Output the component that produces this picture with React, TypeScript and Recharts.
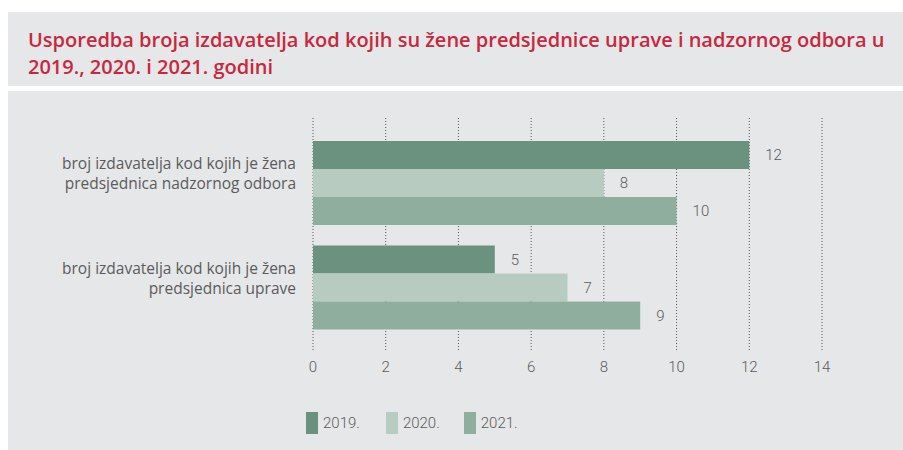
import { BarChart, Bar, XAxis, YAxis, CartesianGrid, LabelList } from "recharts";

const categories = [
  "broj izdavatelja kod kojih je žena predsjednica nadzornog odbora",
  "broj izdavatelja kod kojih je žena predsjednica uprave",
];
const categoryLines = [
  ["broj izdavatelja kod kojih je žena", "predsjednica nadzornog odbora"],
  ["broj izdavatelja kod kojih je žena", "predsjednica uprave"],
];
const series2019 = [12, 5];
const series2020 = [8, 7];
const series2021 = [10, 9];
const xTicks = [0, 2, 4, 6, 8, 10, 12, 14];
const years = ["2019.", "2020.", "2021."];

const colors = ["#6a927f", "#b7cbc1", "#8fae9d"];
const BG = "#e6e7e9";
const TEXT = "#5b5b5b";

const data = categories.map((name, i) => ({
  name,
  y2019: series2019[i],
  y2020: series2020[i],
  y2021: series2021[i],
}));

const CategoryTick = (props: any) => {
  const { x, y, index } = props;
  const lines = categoryLines[index] || [];
  return (
    <text x={x} y={y - 13} textAnchor="end" fill={TEXT} fontSize={15.5} fontFamily="Open Sans" fontWeight={400}>
      {lines.map((l, i) => (
        <tspan key={i} x={x} dy={i === 0 ? -1 : 20}>
          {l}
        </tspan>
      ))}
    </text>
  );
};

export default function App() {
  return (
    <div style={{ position: "fixed", left: 0, top: 0, width: 903, height: 450, background: "#fff", overflow: "hidden" }}>
      <div style={{ position: "absolute", left: 8, top: 12, width: 895, height: 74, background: BG }}>
        <div
          style={{
            position: "absolute",
            left: 20,
            top: 14,
            fontFamily: "Open Sans",
            fontWeight: 600,
            fontSize: 20,
            lineHeight: "27px",
            color: "#c8283d",
            width: 880,
            whiteSpace: "nowrap",
          }}
        >
          Usporedba broja izdavatelja kod kojih su žene predsjednice uprave i nadzornog odbora u
          <br />
          2019., 2020. i 2021. godini
        </div>
      </div>
      <div style={{ position: "absolute", left: 8, top: 91, width: 895, height: 359, background: BG }} />
      <div style={{ position: "absolute", left: 0, top: 0 }}>
        <BarChart
          width={903}
          height={450}
          data={data}
          layout="vertical"
          margin={{ top: 118, right: 81, bottom: 69, left: 13 }}
          barGap={0}
          barSize={28}
        >
          <CartesianGrid horizontal={false} stroke="#555" strokeDasharray="1 2" />
          <XAxis
            type="number"
            domain={[0, 14]}
            ticks={xTicks}
            axisLine={false}
            tickLine={false}
            tickSize={6}
            tickMargin={4}
            height={30}
            tick={{ fill: TEXT, fontSize: 15, fontFamily: "Roboto", fontWeight: 300 }}
          />
          <YAxis
            type="category"
            dataKey="name"
            width={300}
            axisLine={false}
            tickLine={false}
            tickSize={0}
            tickMargin={17}
            padding={{ top: 13, bottom: 11 }}
            tick={<CategoryTick />}
          />
          {["y2019", "y2020", "y2021"].map((k, i) => (
            <Bar key={k} dataKey={k} name={years[i]} fill={colors[i]} isAnimationActive={false}>
              <LabelList
                dataKey={k}
                position="right"
                offset={16}
                fill={TEXT}
                fontSize={15}
                fontFamily="Roboto"
                fontWeight={300}
              />
            </Bar>
          ))}
        </BarChart>
      </div>
      <div style={{ position: "absolute", left: 306, top: 412, display: "flex", alignItems: "center" }}>
        {years.map((y, i) => (
          <div key={y} style={{ display: "flex", alignItems: "center", marginRight: i === 0 ? 26 : 24 }}>
            <div style={{ width: 12, height: 22, background: colors[i], marginRight: 5 }} />
            <span style={{ fontFamily: "Roboto", fontWeight: 300, fontSize: 15, color: TEXT }}>{y}</span>
          </div>
        ))}
      </div>
    </div>
  );
}
